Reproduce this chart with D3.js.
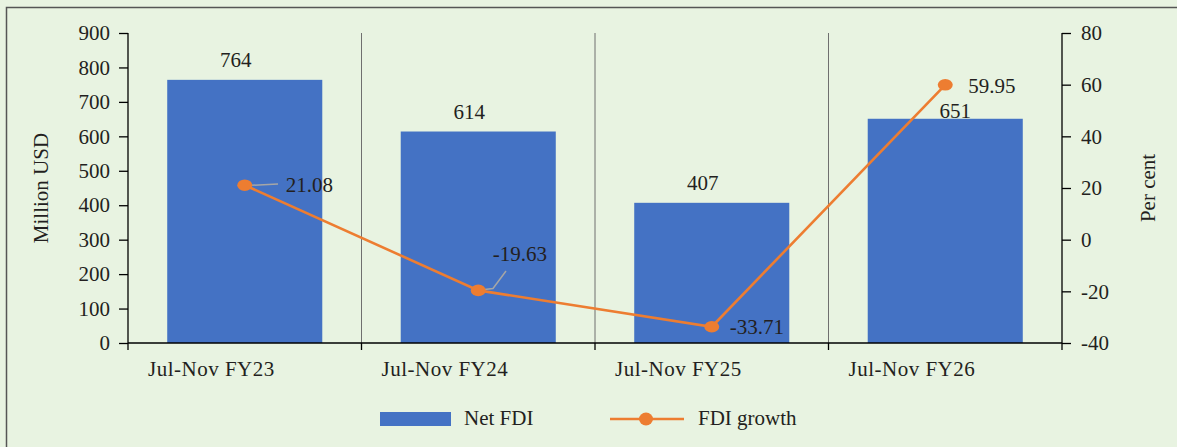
<!DOCTYPE html>
<html>
<head>
<meta charset="utf-8">
<script src="https://cdn.jsdelivr.net/npm/d3@7"></script>
<style>
  html, body { margin: 0; padding: 0; background: #e8f3e1; }
  svg { display: block; }
  text { font-family: "Liberation Serif", "Times New Roman", serif; fill: #231f20; }
</style>
</head>
<body>
<svg id="chart" width="1177" height="447"></svg>
<script>
// ---- data ----
const categories = ["Jul-Nov FY23", "Jul-Nov FY24", "Jul-Nov FY25", "Jul-Nov FY26"];
const netFDI = [764, 614, 407, 651];
const fdiGrowth = [21.08, -19.63, -33.71, 59.95];
const leftTicks = [0, 100, 200, 300, 400, 500, 600, 700, 800, 900];
const rightTicks = [-40, -20, 0, 20, 40, 60, 80];
const seriesNames = ["Net FDI", "FDI growth"];

// ---- layout / style ----
const W = 1177, H = 447;
const plot = { left: 128, right: 1062, top: 33, bottom: 343 };
const barColor = "#4472c4";
const lineColor = "#ed7d31";
const fontSize = 21;

// label nudges (layout, not data)
const barLabelNudge = [[-9, -13], [-9, -13], [-9, -13], [10, -1]];
const lineLabelNudge = [[41, 7], [14.5, -29], [18, 7.2], [23, 8.5]];
const leader1 = [[247, 185.5], [278, 184]];
const leader2 = [[480, 290], [493, 288.5], [506, 271]];

const svg = d3.select("#chart");

// frame
svg.append("rect")
  .attr("x", 6.5).attr("y", 7.5)
  .attr("width", W + 20).attr("height", H + 20)
  .attr("fill", "#e8f3e1")
  .attr("stroke", "#555").attr("stroke-width", 1.5);

// scales
const x = d3.scaleBand()
  .domain(categories)
  .range([plot.left, plot.right])
  .paddingInner(0.336)
  .paddingOuter(0.168);
const step = x.step();
const xCenter = c => x(c) + x.bandwidth() / 2;

const yL = d3.scaleLinear().domain([0, 900]).range([plot.bottom, plot.top]);
const yR = d3.scaleLinear().domain([-40, 80]).range([plot.bottom, plot.top]);

// category boundary gridlines
const boundaries = categories.map((c, i) => plot.left + i * step).concat([plot.right]);
svg.append("g").selectAll("line")
  .data(boundaries.slice(1, -1))
  .join("line")
  .attr("x1", d => d).attr("x2", d => d)
  .attr("y1", plot.top).attr("y2", plot.bottom)
  .attr("stroke", "#6f6f6f").attr("stroke-width", 1);

// bars
svg.append("g").selectAll("rect")
  .data(netFDI)
  .join("rect")
  .attr("x", (d, i) => x(categories[i]))
  .attr("width", x.bandwidth())
  .attr("y", d => yL(d))
  .attr("height", d => yL(0) - yL(d))
  .attr("fill", barColor);

// bar labels
svg.append("g").selectAll("text")
  .data(netFDI)
  .join("text")
  .attr("x", (d, i) => xCenter(categories[i]) + barLabelNudge[i][0])
  .attr("y", (d, i) => yL(d) + barLabelNudge[i][1])
  .attr("text-anchor", "middle")
  .attr("font-size", fontSize)
  .text(d => d);

// left axis
const axL = svg.append("g")
  .attr("transform", `translate(${plot.left},0)`)
  .call(d3.axisLeft(yL).tickValues(leftTicks).tickFormat(d => String(d))
    .tickSize(9).tickPadding(9).tickSizeOuter(0));
axL.select(".domain").remove();
axL.selectAll("line").attr("stroke", "#000").attr("stroke-width", 1.3);
axL.selectAll("text").attr("font-size", fontSize).attr("font-family", "Liberation Serif").attr("fill", "#231f20");
svg.append("line")
  .attr("x1", plot.left).attr("x2", plot.left)
  .attr("y1", plot.top).attr("y2", plot.bottom + 7)
  .attr("stroke", "#000").attr("stroke-width", 1.3);

// right axis
const axR = svg.append("g")
  .attr("transform", `translate(${plot.right},0)`)
  .call(d3.axisRight(yR).tickValues(rightTicks).tickFormat(d => String(d))
    .tickSize(9).tickPadding(10).tickSizeOuter(0));
axR.select(".domain").remove();
axR.selectAll("line").attr("stroke", "#000").attr("stroke-width", 1.3);
axR.selectAll("text").attr("font-size", fontSize).attr("font-family", "Liberation Serif").attr("fill", "#231f20");
svg.append("line")
  .attr("x1", plot.right).attr("x2", plot.right)
  .attr("y1", plot.top).attr("y2", plot.bottom + 7)
  .attr("stroke", "#000").attr("stroke-width", 1.3);

// x axis
svg.append("line")
  .attr("x1", plot.left).attr("x2", plot.right)
  .attr("y1", plot.bottom).attr("y2", plot.bottom)
  .attr("stroke", "#000").attr("stroke-width", 1.3);
svg.append("g").selectAll("line")
  .data(boundaries.slice(1, -1))
  .join("line")
  .attr("x1", d => d).attr("x2", d => d)
  .attr("y1", plot.bottom).attr("y2", plot.bottom + 7)
  .attr("stroke", "#000").attr("stroke-width", 1.3);
svg.append("g").selectAll("text")
  .data(categories)
  .join("text")
  .attr("x", d => x(d) - x.step() * x.paddingOuter() + 20)
  .attr("y", 376)
  .attr("font-size", fontSize)
  .attr("letter-spacing", 0.5)
  .text(d => d);

// axis titles
svg.append("text")
  .attr("transform", `translate(48,${(plot.top + plot.bottom) / 2}) rotate(-90)`)
  .attr("text-anchor", "middle")
  .attr("font-size", fontSize)
  .text("Million USD");
svg.append("text")
  .attr("transform", `translate(1155,${(plot.top + plot.bottom) / 2}) rotate(-90)`)
  .attr("text-anchor", "middle")
  .attr("font-size", fontSize)
  .text("Per cent");

// line series
const pts = fdiGrowth.map((v, i) => [xCenter(categories[i]), yR(v)]);
svg.append("path")
  .attr("d", d3.line()(pts))
  .attr("fill", "none")
  .attr("stroke", lineColor)
  .attr("stroke-width", 2.6);

// leader lines
svg.append("path")
  .attr("d", d3.line()(leader1))
  .attr("fill", "none").attr("stroke", "#a6a6a6").attr("stroke-width", 1.5);
svg.append("path")
  .attr("d", d3.line()(leader2))
  .attr("fill", "none").attr("stroke", "#a6a6a6").attr("stroke-width", 1.5);

svg.append("g").selectAll("ellipse")
  .data(pts)
  .join("ellipse")
  .attr("cx", d => d[0]).attr("cy", d => d[1])
  .attr("rx", 7.5).attr("ry", 5.8)
  .attr("fill", lineColor);

svg.append("g").selectAll("text")
  .data(fdiGrowth)
  .join("text")
  .attr("x", (d, i) => pts[i][0] + lineLabelNudge[i][0])
  .attr("y", (d, i) => pts[i][1] + lineLabelNudge[i][1])
  .attr("font-size", fontSize)
  .text(d => d.toFixed(2));

// legend
const lg = svg.append("g");
lg.append("rect").attr("x", 380).attr("y", 412).attr("width", 71).attr("height", 14).attr("fill", barColor);
lg.append("text").attr("x", 464).attr("y", 425).attr("font-size", fontSize).text(seriesNames[0]);
lg.append("line").attr("x1", 610).attr("x2", 684).attr("y1", 419).attr("y2", 419)
  .attr("stroke", lineColor).attr("stroke-width", 2.6);
lg.append("ellipse").attr("cx", 646).attr("cy", 419).attr("rx", 7).attr("ry", 6.5).attr("fill", lineColor);
lg.append("text").attr("x", 698).attr("y", 425).attr("font-size", fontSize).text(seriesNames[1]);
</script>
</body>
</html>
